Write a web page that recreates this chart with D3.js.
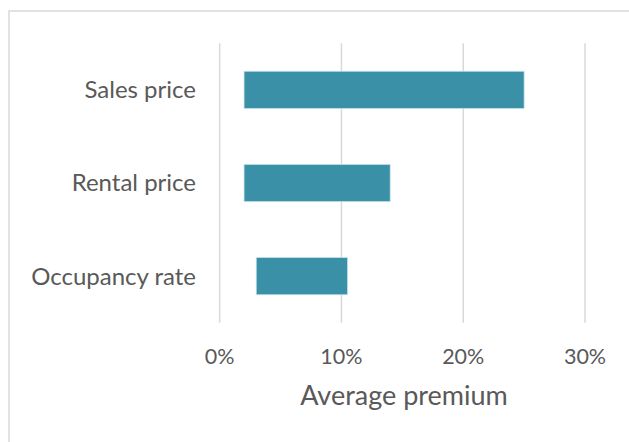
<!doctype html>
<head>
  <script src="https://cdn.jsdelivr.net/npm/d3@7"></script>
  <style>
    body { margin: 0; background: #fff; }
    text { font-family: Lato, "Open Sans", sans-serif; fill: #595959; }
  </style>
</head>
<body>
<div id="viz"></div>
<script>

var categories = ['Sales price', 'Rental price', 'Occupancy rate']
var lowValues = [0.02, 0.02, 0.03]
var highValues = [0.25, 0.14, 0.105]
var tickValues = [0, 0.1, 0.2, 0.3]
var axisTitle = 'Average premium'

var rows = categories.map(function(c, i) {
  return { name: c, low: lowValues[i], high: highValues[i] }
})

var width = 629, height = 442
var plot = { left: 219.7, right: 585, top: 43.3, bottom: 322.7 }

var svg = d3.select('#viz').append('svg')
  .attr('width', width)
  .attr('height', height)

// chart frame
svg.append('rect')
  .attr('x', 9)
  .attr('y', 11)
  .attr('width', 640)
  .attr('height', 450)
  .style('fill', 'none')
  .style('stroke', '#d9d9d9')
  .style('stroke-width', 1.5)

var x = d3.scaleLinear()
  .domain([0, 0.3])
  .range([plot.left, plot.right])

var y = d3.scaleBand()
  .domain(categories)
  .range([plot.top, plot.bottom])
  .paddingInner(0.6)
  .paddingOuter(0.3)

// gridlines
svg.selectAll('.grid')
  .data(tickValues)
  .enter()
  .append('line')
  .attr('class', 'grid')
  .attr('x1', function(d) { return x(d); })
  .attr('x2', function(d) { return x(d); })
  .attr('y1', plot.top)
  .attr('y2', plot.bottom)
  .style('stroke', '#d9d9d9')
  .style('stroke-width', 1.5)

// floating bars
svg.selectAll('.bar')
  .data(rows)
  .enter()
  .append('rect')
  .attr('class', 'bar')
  .attr('x', function(d) { return x(d.low); })
  .attr('y', function(d) { return y(d.name); })
  .attr('width', function(d) { return x(d.high) - x(d.low); })
  .attr('height', y.bandwidth())
  .style('fill', '#3a91a7')
  .style('stroke', '#c6e3ea')
  .style('stroke-width', 0.75)

// category labels
svg.selectAll('.cat')
  .data(categories)
  .enter()
  .append('text')
  .attr('class', 'cat')
  .attr('x', 196)
  .attr('y', function(d) { return y(d) + y.bandwidth() / 2; })
  .attr('dy', '0.35em')
  .attr('text-anchor', 'end')
  .style('font-size', '24px')
  .text(function(d) { return d; })

// x axis tick labels
var fmt = d3.format('.0%')
svg.selectAll('.tick-label')
  .data(tickValues)
  .enter()
  .append('text')
  .attr('class', 'tick-label')
  .attr('x', function(d) { return x(d); })
  .attr('y', 364)
  .attr('text-anchor', 'middle')
  .style('font-size', '21.5px')
  .text(function(d) { return fmt(d); })

svg.append('text')
  .attr('x', 404)
  .attr('y', 405)
  .attr('text-anchor', 'middle')
  .style('font-size', '27px')
  .text(axisTitle)

</script>
</body>
